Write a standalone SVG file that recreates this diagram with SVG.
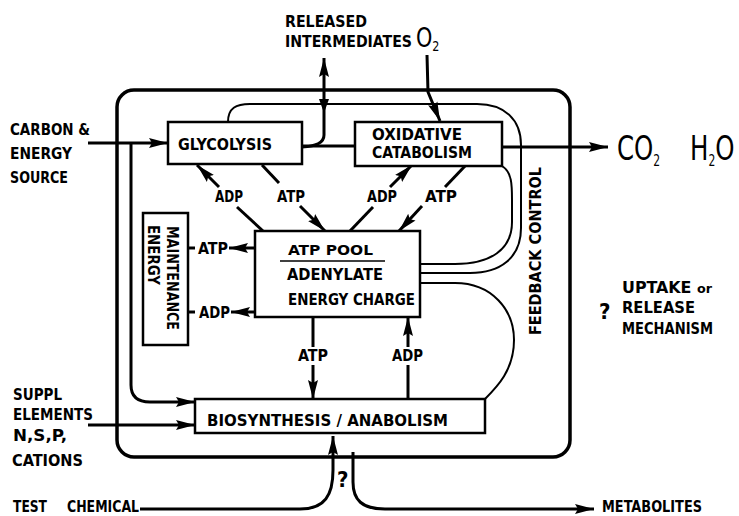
<svg xmlns="http://www.w3.org/2000/svg" width="739" height="516" viewBox="0 0 739 516">
<style>
.t{font-family:"DejaVu Sans Condensed","DejaVu Sans",sans-serif;font-size:15px;font-weight:bold;fill:#000}
.s{font-size:14px}
.chem{font-family:"DejaVu Sans",sans-serif;font-weight:normal;fill:#000}
.box{fill:#fff;stroke:#000;stroke-width:2.5}
.c{fill:none;stroke:#000;stroke-width:3}
.fb{fill:none;stroke:#000;stroke-width:2}
.ar{marker-end:url(#ah)}
</style>
<defs>
<marker id="ah" markerUnits="userSpaceOnUse" markerWidth="20" markerHeight="12" refX="19" refY="6" orient="auto">
<path d="M0,1 L19,6 L0,11 L3,6 z" fill="#000"/>
</marker>
<marker id="ahs" markerUnits="userSpaceOnUse" markerWidth="20" markerHeight="12" refX="19" refY="6" orient="auto-start-reverse">
<path d="M0,1 L19,6 L0,11 L3,6 z" fill="#000"/>
</marker>
</defs>
<rect width="739" height="516" fill="#fff"/>

<g id="cell">
<rect x="117" y="90" width="453" height="367" rx="17" fill="none" stroke="#000" stroke-width="3.5"/>
</g>

<g id="connectors">
<path class="c ar" d="M88,143 L168,143"/>
<path class="c ar" d="M131,143 L131,385 Q131,402 150,402 L195,402"/>
<path class="c ar" d="M88,425 L195,425"/>
<path class="c" d="M302,146 L355,146"/>
<path class="c" d="M324,58 L324,135 Q324,146 302,147" marker-start="url(#ahs)"/>
<polygon points="319,99 329,99 324,113" fill="#000"/>
<path class="c ar" d="M427,55 L428,92 L440,121"/>
<path class="c ar" d="M502,147 L608,147"/>
<path class="c ar" d="M219,187 L197,165"/>
<path class="c" d="M237,207 L263,231"/>
<path class="c" d="M262,165 L279,183"/>
<path class="c ar" d="M300,206 L325,231"/>
<path class="c ar" d="M390,187 L412,165"/>
<path class="c" d="M373,207 L350,231"/>
<path class="c" d="M466,165 L445,187"/>
<path class="c ar" d="M422,206 L399,231"/>
<path class="c ar" d="M255,248 L229,248"/>
<path class="c" d="M188,248 L195,248"/>
<path class="c ar" d="M255,312 L231,312"/>
<path class="c" d="M188,312 L195,312"/>
<path class="c" d="M313,317 L313,347"/>
<path class="c ar" d="M313,365 L313,399"/>
<path class="c" d="M408,399 L408,365"/>
<path class="c ar" d="M408,347 L408,317"/>
<path class="c ar" d="M140,509 L300,509 C325,509 333,495 333,470 L333,436"/>
<path class="c ar" d="M353,452 L353,482 C353,500 362,509 385,509 L594,509"/>
<path class="fb" d="M228,122 C228,108 236,104 250,104 L477,104 C505,104 521,120 521,145 L521,228 C521,258 500,273 470,273 L420,273"/>
<path class="fb" d="M502,166 C512,172 512,185 512,200 L512,222 C512,250 490,264 455,264 L420,264"/>
<path class="fb" d="M420,283 L455,283 C492,283 514,310 514,340 C514,370 497,387 485,399"/>
</g>

<g id="glycolysis">
<rect class="box" x="168" y="122" width="134" height="42"/>
<text class="t" x="178" y="150" textLength="94" lengthAdjust="spacingAndGlyphs">GLYCOLYSIS</text>
</g>

<g id="oxidative">
<rect class="box" x="355" y="122" width="147" height="44"/>
<text class="t" x="372" y="140" textLength="90" lengthAdjust="spacingAndGlyphs">OXIDATIVE</text>
<text class="t" x="372" y="158" textLength="100" lengthAdjust="spacingAndGlyphs">CATABOLISM</text>
</g>

<g id="atppool">
<rect class="box" x="255" y="231" width="165" height="86"/>
<text class="t s" x="288" y="255" textLength="85" lengthAdjust="spacingAndGlyphs">ATP POOL</text>
<line x1="280" y1="261" x2="385" y2="261" stroke="#000" stroke-width="1.5"/>
<text class="t" x="287" y="280" textLength="96" lengthAdjust="spacingAndGlyphs">ADENYLATE</text>
<text class="t" x="288" y="305" textLength="127" lengthAdjust="spacingAndGlyphs">ENERGY CHARGE</text>
</g>

<g id="maintenance">
<rect class="box" x="143" y="213" width="45" height="132"/>
<text class="t" transform="translate(167,226) rotate(90)" textLength="104" lengthAdjust="spacingAndGlyphs">MAINTENANCE</text>
<text class="t" transform="translate(148,225) rotate(90)" textLength="60" lengthAdjust="spacingAndGlyphs">ENERGY</text>
</g>

<g id="biosynthesis">
<rect class="box" x="195" y="399" width="290" height="34"/>
<text class="t" x="207" y="426" textLength="241" lengthAdjust="spacingAndGlyphs">BIOSYNTHESIS / ANABOLISM</text>
</g>

<g id="labels">
<text class="t" x="215" y="202" textLength="28" lengthAdjust="spacingAndGlyphs">ADP</text>
<text class="t" x="277" y="202" textLength="28" lengthAdjust="spacingAndGlyphs">ATP</text>
<text class="t" x="367" y="202" textLength="30" lengthAdjust="spacingAndGlyphs">ADP</text>
<text class="t" x="425" y="202" textLength="32" lengthAdjust="spacingAndGlyphs">ATP</text>
<text class="t" x="198" y="254" textLength="30" lengthAdjust="spacingAndGlyphs">ATP</text>
<text class="t" x="199" y="318" textLength="31" lengthAdjust="spacingAndGlyphs">ADP</text>
<text class="t" x="298" y="361" textLength="30" lengthAdjust="spacingAndGlyphs">ATP</text>
<text class="t" x="392" y="361" textLength="31" lengthAdjust="spacingAndGlyphs">ADP</text>
<text class="t" x="285" y="27" textLength="82" lengthAdjust="spacingAndGlyphs">RELEASED</text>
<text class="t" x="285" y="47" textLength="127" lengthAdjust="spacingAndGlyphs">INTERMEDIATES</text>
<text class="chem" transform="translate(416,47) scale(0.8,1)" style="font-size:26px">O<tspan dy="4" style="font-size:14px">2</tspan></text>
<text class="chem" transform="translate(617,160) scale(0.72,1)" style="font-size:34px">CO<tspan dy="6" style="font-size:15px">2</tspan></text>
<text class="chem" transform="translate(690,160) scale(0.72,1)" style="font-size:34px">H<tspan dy="6" style="font-size:15px">2</tspan><tspan dy="-6">O</tspan></text>
<text class="t" x="10" y="135" textLength="80" lengthAdjust="spacingAndGlyphs">CARBON &amp;</text>
<text class="t" x="10" y="159" textLength="62" lengthAdjust="spacingAndGlyphs">ENERGY</text>
<text class="t" x="10" y="183" textLength="58" lengthAdjust="spacingAndGlyphs">SOURCE</text>
<text class="t" x="13" y="400" textLength="49" lengthAdjust="spacingAndGlyphs">SUPPL</text>
<text class="t" x="13" y="420" textLength="80" lengthAdjust="spacingAndGlyphs">ELEMENTS</text>
<text class="t" x="13" y="441" textLength="54" lengthAdjust="spacingAndGlyphs">N,S,P,</text>
<text class="t" x="12" y="466" textLength="71" lengthAdjust="spacingAndGlyphs">CATIONS</text>
<text class="t" x="13" y="512" textLength="34" lengthAdjust="spacingAndGlyphs">TEST</text>
<text class="t" x="67" y="512" textLength="72" lengthAdjust="spacingAndGlyphs">CHEMICAL</text>
<text class="t" x="602" y="512" textLength="100" lengthAdjust="spacingAndGlyphs">METABOLITES</text>
<text class="t" x="622" y="293" textLength="90" lengthAdjust="spacingAndGlyphs">UPTAKE <tspan style="font-size:12px">or</tspan></text>
<text class="t" x="622" y="313" textLength="73" lengthAdjust="spacingAndGlyphs">RELEASE</text>
<text class="t" x="622" y="334" textLength="91" lengthAdjust="spacingAndGlyphs">MECHANISM</text>
<text class="t" x="599" y="319" style="font-size:22px">?</text>
<text class="t" x="337" y="487" style="font-size:22px">?</text>
<text class="t" transform="translate(541,335) rotate(-90)" textLength="168" lengthAdjust="spacingAndGlyphs">FEEDBACK CONTROL</text>
</g>
</svg>
